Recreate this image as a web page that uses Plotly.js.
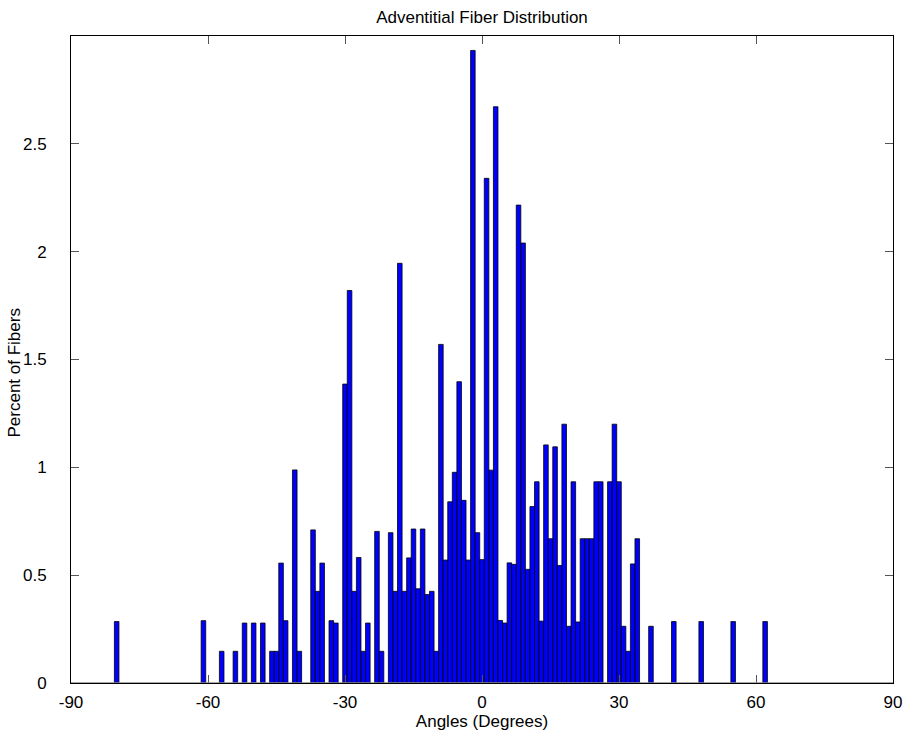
<!DOCTYPE html>
<html>
<head>
<meta charset="utf-8">
<script src="https://cdn.plot.ly/plotly-3.0.1.min.js"></script>
<style>html,body{margin:0;padding:0;background:#fff;}#chart{width:906px;height:736px;}</style>
</head>
<body>
<div id="chart"></div>
<script>
// Bin centers (degrees) and percent of fibers in each bin
const angles = [-80, -61, -57, -54, -52, -50, -48, -46, -45, -44, -43, -41, -40,
  -37, -36, -35, -33, -32, -30, -29, -28, -27, -26, -25, -23, -22,
  -20, -19, -18, -17, -16, -15, -14, -13, -12, -11, -10, -9, -8, -7, -6, -5, -4, -3, -2, -1,
  0, 1, 2, 3, 4, 5, 6, 7, 8, 9, 10, 11, 12, 13, 14, 15, 16, 17, 18, 19,
  20, 21, 22, 23, 24, 25, 26, 28, 29, 30, 31, 32, 33, 34, 37, 42, 48, 55, 62];
const percents = [0.285, 0.289, 0.147, 0.147, 0.278, 0.278, 0.278, 0.147, 0.147, 0.556, 0.289, 0.988, 0.147,
  0.71, 0.425, 0.556, 0.289, 0.278, 1.386, 1.82, 0.425, 0.582, 0.147, 0.278, 0.703, 0.147,
  0.697, 0.425, 1.946, 0.425, 0.58, 0.714, 0.437, 0.714, 0.41, 0.425, 0.147, 1.57, 0.57, 0.84, 0.977, 1.397, 0.847, 0.57, 2.933, 0.697,
  0.572, 2.34, 0.987, 2.672, 0.29, 0.278, 0.557, 0.55, 2.216, 2.04, 0.527, 0.818, 0.933, 0.287, 1.104, 0.669, 1.095, 0.545, 1.2, 0.263,
  0.933, 0.283, 0.669, 0.669, 0.669, 0.933, 0.933, 0.933, 1.2, 0.933, 0.263, 0.147, 0.552, 0.669, 0.263, 0.285, 0.285, 0.285, 0.285];
const xTicks = [-90, -60, -30, 0, 30, 60, 90];
const yTicks = [0, 0.5, 1, 1.5, 2, 2.5];
const yTickText = ['0', '0.5', '1', '1.5', '2', '2.5'];

const font = {family: 'Liberation Sans, Arial, Helvetica, sans-serif', size: 17, color: '#000'};

const trace = {
  type: 'bar',
  x: angles,
  y: percents,
  width: 1,
  marker: {color: 'rgb(0,0,255)', line: {color: '#000', width: 0.8}},
  hoverinfo: 'x+y'
};

const layout = {
  width: 906, height: 736,
  margin: {l: 71, r: 13, t: 36, b: 53, pad: 0},
  paper_bgcolor: '#fff', plot_bgcolor: '#fff',
  font: font,
  showlegend: false,
  bargap: 0,
  title: {text: 'Adventitial Fiber Distribution', font: font,
          xref: 'paper', x: 0.5, xanchor: 'center', yref: 'container', y: 1 - 17/736, yanchor: 'middle'},
  xaxis: {
    range: [-90, 90], tickvals: xTicks, ticktext: xTicks.map(String),
    ticks: 'inside', ticklen: 8, tickcolor: '#555', tickwidth: 1,
    showline: true, linecolor: '#000', linewidth: 1, mirror: 'ticks',
    showgrid: false, zeroline: false, ticklabelstandoff: 4,
    tickfont: font,
    title: {text: 'Angles (Degrees)', font: font, standoff: 3}
  },
  yaxis: {
    range: [0, 3], tickvals: yTicks, ticktext: yTickText,
    ticks: 'inside', ticklen: 8, tickcolor: '#555', tickwidth: 1,
    showline: true, linecolor: '#000', linewidth: 1, mirror: 'ticks',
    showgrid: false, zeroline: false, ticklabelstandoff: 20,
    tickfont: font
  },
  annotations: [{
    text: 'Percent of Fibers', textangle: -90, showarrow: false, font: font,
    xref: 'paper', x: 0, xanchor: 'center', xshift: -57,
    yref: 'paper', y: 0.5, yanchor: 'middle', yshift: -14
  }],
  shapes: [{type: 'line', xref: 'paper', yref: 'y', x0: 0, x1: 1, y0: 0, y1: 0,
            line: {color: '#888', width: 1.5}}]
};

Plotly.newPlot('chart', [trace], layout, {displayModeBar: false, staticPlot: true});
</script>
</body>
</html>
